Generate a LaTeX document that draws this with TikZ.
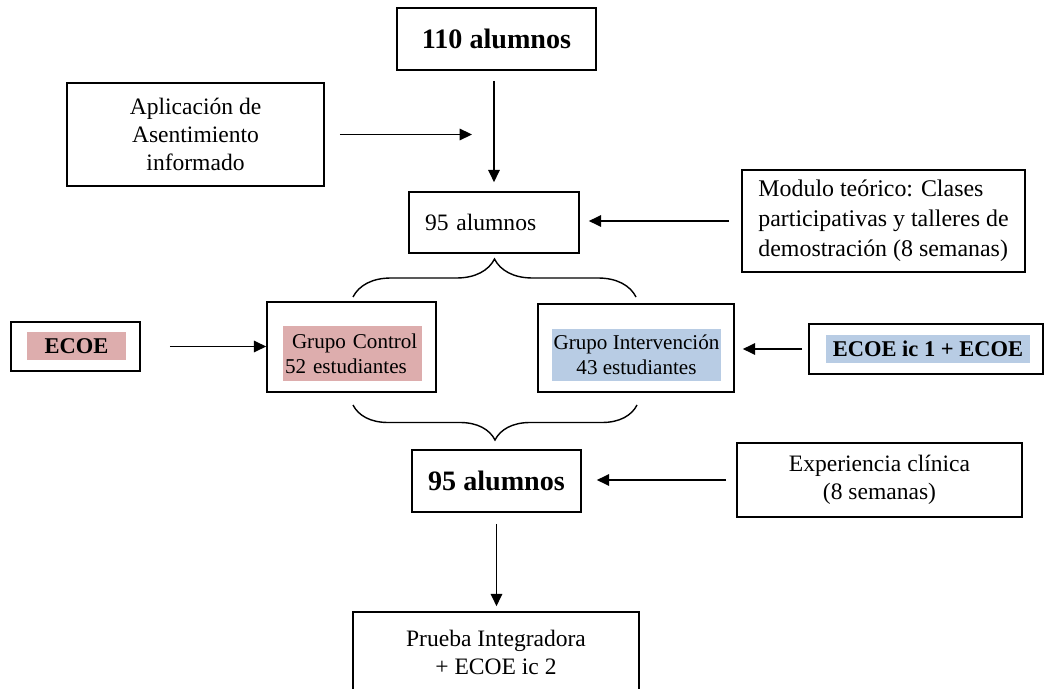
\documentclass[tikz,border=0pt]{standalone}
\usepackage{fontspec}
\setmainfont{Liberation Serif}
\usetikzlibrary{arrows.meta, decorations.pathreplacing}
\definecolor{ecoePink}{RGB}{221,173,173}
\definecolor{ecoeBlue}{RGB}{184,204,228}

\begin{document}
\begin{tikzpicture}[
  box/.style={draw, line width=0.9pt, inner sep=0pt},
  txt/.style={font=\fontsize{13.4}{16}\selectfont, align=center},
  bold/.style={font=\fontsize{16}{19}\selectfont\bfseries},
  grp/.style={font=\fontsize{12}{14.2}\selectfont, inner sep=0pt},
  arr/.style={line width=0.95pt, -{Triangle[length=7pt, width=6.5pt]}},
  brc/.style={line width=0.8pt, decorate, decoration={brace, amplitude=#1}}
]
% frame
\useasboundingbox (0,0) rectangle (20.9,13.76);

% top part
\node[box, bold, minimum width=3.98cm, minimum height=1.24cm] (n110) at (9.93,12.98) {110 alumnos};
\node[box, txt, minimum width=5.14cm, minimum height=2.06cm] (apl) at (3.91,11.07) {Aplicación de\\Asentimiento\\informado};
\node[box, txt, align=left, text width=2.76cm, inner xsep=0.32cm, minimum height=1.22cm] (n95a) at (9.88,9.31) {95 alumnos};
\node[box, txt, font=\fontsize{13.6}{17}\selectfont, align=left, minimum width=5.66cm, minimum height=2.04cm] (modulo) at (17.67,9.34) {Modulo teórico: Clases\\participativas y talleres de\\demostración (8 semanas)};

\coordinate (aplEnd) at (9.44,11.07);
\draw[arr, shorten <=0.3cm] (apl.east) -- (aplEnd);
\draw[arr, shorten <=0.2cm, shorten >=0.18cm] (n95a.north |- n110.south) -- (n95a.north);
\draw[arr, shorten <=0.24cm, shorten >=0.18cm] (modulo.west) -- (modulo.west -| n95a.east);

% groups
\draw[brc=0.76cm] (7.06,7.82) -- (12.72,7.82);

\node[box, minimum width=3.38cm, minimum height=1.8cm] (control) at (7.03,6.82) {};
\node[grp, fill=ecoePink, text width=2.7cm, inner xsep=0.04cm, align=left, minimum height=1.1cm] (controlTxt) at (7.05,6.69) {\hspace*{0.14cm}Grupo Control\\52 estudiantes};

\node[box, minimum width=3.92cm, minimum height=1.76cm] (interv) at (12.72,6.8) {};
\node[grp, fill=ecoeBlue, align=center, minimum width=3.38cm, minimum height=1.04cm] (intervTxt) at (12.73,6.66) {Grupo Intervención\\43 estudiantes};

\node[box, minimum width=2.58cm, minimum height=0.98cm] (ecoeL) at (1.51,6.83) {};
\node[fill=ecoePink, font=\fontsize{12.8}{15}\selectfont\bfseries, inner sep=0pt, minimum width=1.98cm, minimum height=0.56cm] (ecoeLTxt) at (1.53,6.84) {ECOE};

\node[box, minimum width=4.68cm, minimum height=1.0cm] (ecoeR) at (18.52,6.78) {};
\node[fill=ecoeBlue, font=\fontsize{12.8}{15}\selectfont\bfseries, inner sep=0pt, minimum width=4.08cm, minimum height=0.56cm] (ecoeRTxt) at (18.56,6.78) {ECOE ic 1 + ECOE};

\draw[arr, shorten <=0.58cm] (ecoeL.east) -- (ecoeL.east -| control.west);
\draw[arr, shorten <=0.12cm, shorten >=0.16cm] (ecoeR.west) -- (ecoeR.west -| interv.east);

\draw[brc=0.7cm] (12.74,5.66) -- (7.06,5.66);

% bottom part
\node[box, bold, minimum width=3.38cm, minimum height=1.24cm] (n95b) at (9.93,4.14) {95 alumnos};
\node[box, txt, minimum width=5.7cm, minimum height=1.48cm] (exper) at (17.59,4.16) {Experiencia clínica\\(8 semanas)};
\node[box, txt, minimum width=5.72cm, minimum height=1.6cm] (prueba) at (9.92,0.72) {Prueba Integradora\\+ ECOE ic 2};

\draw[arr, shorten <=0.2cm, shorten >=0.3cm] (exper.west) -- (exper.west -| n95b.east);
\draw[arr, shorten <=0.22cm, shorten >=0.1cm] (n95b.south) -- (n95b.south |- prueba.north);

\end{tikzpicture}
\end{document}
